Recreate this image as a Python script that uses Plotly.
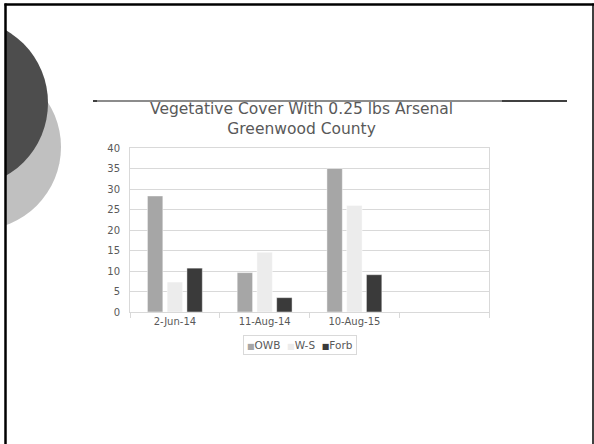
import plotly.graph_objects as go

categories = ["2-Jun-14", "11-Aug-14", "10-Aug-15", " "]
owb = [28.3, 9.6, 35.0, None]
ws = [7.3, 14.6, 26.0, None]
forb = [10.7, 3.5, 9.1, None]
series_names = ["OWB", "W-S", "Forb"]
series_colors = ["#a6a6a6", "#ececec", "#3a3a3a"]

W, H = 594, 444
L, R, T, B = 130, 489, 148, 312  # plot area in pixels

def px(x):
    return (x - L) / (R - L)

def py(y):
    return (B - y) / (B - T)

fig = go.Figure()
for name, vals, col in zip(series_names, [owb, ws, forb], series_colors):
    fig.add_trace(go.Bar(
        x=categories, y=vals, name=name, showlegend=False,
        marker=dict(color=col, line=dict(color="rgba(255,255,255,0.45)", width=1)),
    ))

shapes = []
# decorative circles
shapes.append(dict(type="circle", xref="paper", yref="paper", layer="below",
                   x0=px(-22 - 83), x1=px(-22 + 83), y0=py(147 - 83), y1=py(147 + 83),
                   fillcolor="#c0c0c0", line=dict(width=0)))
shapes.append(dict(type="circle", xref="paper", yref="paper", layer="below",
                   x0=px(-36 - 84), x1=px(-36 + 84), y0=py(103 - 84), y1=py(103 + 84),
                   fillcolor="#4d4d4d", line=dict(width=0)))
# white area left of frame
shapes.append(dict(type="rect", xref="paper", yref="paper", layer="below",
                   x0=px(-10), x1=px(5), y0=py(-10), y1=py(460),
                   fillcolor="white", line=dict(width=0)))
# frame lines
shapes.append(dict(type="line", xref="paper", yref="paper",
                   x0=px(5.5), x1=px(5.5), y0=py(3.5), y1=py(450),
                   line=dict(color="black", width=2.5)))
shapes.append(dict(type="line", xref="paper", yref="paper",
                   x0=px(4.5), x1=px(594), y0=py(4.5), y1=py(4.5),
                   line=dict(color="black", width=2.5)))
shapes.append(dict(type="line", xref="paper", yref="paper",
                   x0=px(593), x1=px(593), y0=py(3.5), y1=py(450),
                   line=dict(color="black", width=1.5)))
# title rule
shapes.append(dict(type="line", xref="paper", yref="paper",
                   x0=px(93), x1=px(567), y0=py(101), y1=py(101),
                   line=dict(color="black", width=1.3)))
shapes.append(dict(type="line", xref="paper", yref="paper",
                   x0=px(97), x1=px(502), y0=py(101), y1=py(101),
                   line=dict(color="#8c8c8c", width=2)))

legend_text = "&nbsp;&nbsp;".join(
    f"<span style='color:{c};font-size:8px'>■</span>{n}" for n, c in zip(series_names, series_colors)
)

fig.update_layout(
    width=W, height=H,
    margin=dict(l=L, r=W - R, t=T, b=H - B),
    paper_bgcolor="white", plot_bgcolor="white",
    barmode="group", bargap=0.34, bargroupgap=0.22,
    font=dict(family="DejaVu Sans, Verdana, sans-serif", color="#595959", size=10),
    showlegend=False,
    shapes=shapes,
    annotations=[
        dict(text="Vegetative Cover With 0.25 lbs Arsenal<br>Greenwood County",
             xref="paper", yref="paper", x=px(301), y=py(119), xanchor="center",
             yanchor="middle", showarrow=False,
             font=dict(size=15.5, color="#595959")),
        dict(text=legend_text, xref="paper", yref="paper", x=px(300), y=py(345),
             xanchor="center", yanchor="middle", showarrow=False,
             bordercolor="#d9d9d9", borderwidth=1, borderpad=3,
             font=dict(size=10.5, color="#595959")),
    ],
)
fig.update_xaxes(type="category", categoryorder="array", categoryarray=categories,
                 showline=True, linecolor="#d9d9d9", mirror=True, showgrid=False,
                 ticks="outside", tickson="boundaries", ticklen=5, tickcolor="#d9d9d9",
                 tickfont=dict(size=10, color="#595959"), fixedrange=True)
fig.update_yaxes(range=[0, 40], dtick=5, showgrid=True, gridcolor="#d9d9d9",
                 showline=True, linecolor="#d9d9d9", mirror=True, zeroline=False,
                 tickfont=dict(size=10, color="#595959"), ticks="", ticklabelstandoff=7,
                 fixedrange=True)

fig.write_html("out.html", post_script="document.body.style.margin='0';",
               config={"displayModeBar": False})
